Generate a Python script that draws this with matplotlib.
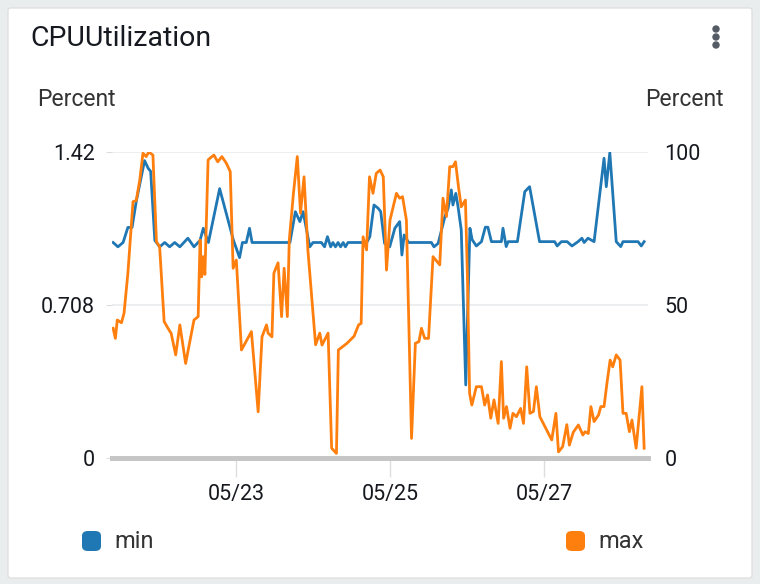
import numpy as np
import pandas as pd
import matplotlib
matplotlib.use("Agg")
import matplotlib.pyplot as plt
import matplotlib.dates as mdates
from matplotlib.patches import FancyBboxPatch, Ellipse

plt.rcParams['font.family'] = ['Roboto', 'DejaVu Sans']

# hours after 05/21 00:00 and values
start = pd.Timestamp("2024-05-21 00:00")

min_hours = [9.7, 11.2, 12.8, 14.3, 15.6, 16.9, 19.5, 20.6, 21.4, 22.7, 24.2, 25.8,
             27.3, 28.9, 30.5, 33.0, 34.9, 36.8, 37.8, 39.4, 42.9, 47.2, 49.1, 50.0,
             51.2, 52.2, 53.0, 64.8, 66.5, 67.9, 68.9, 71.0, 72.0, 74.6, 75.6, 76.5,
             77.5, 78.2, 79.0, 79.8, 80.6, 81.4, 82.1, 82.9, 87.1, 88.6, 89.7, 91.0,
             92.3, 93.1, 94.3, 95.9, 97.5, 99.0, 99.7, 100.4, 101.8, 108.9, 109.7, 111.0,
             113.1, 114.1, 115.1, 115.6, 116.5, 117.2, 118.2, 119.6, 120.9, 121.6, 122.9, 124.5,
             125.7, 126.5, 127.6, 130.7, 131.2, 132.2, 132.8, 135.7, 138.0, 139.5, 142.6, 147.3,
             148.1, 149.4, 151.2, 152.7, 154.6, 155.8, 156.5, 157.7, 159.6, 162.7, 163.4, 164.5,
             166.5, 167.9, 168.6, 173.3, 174.3, 175.2]
min_values = [1.00, 0.98, 1.00, 1.07, 1.07, 1.19, 1.38, 1.345, 1.33, 1.01, 0.98, 1.00,
              0.98, 1.00, 0.98, 1.02, 0.98, 1.01, 1.066, 1.00, 1.25, 1.01, 0.93, 1.00,
              1.00, 1.066, 1.00, 1.00, 1.143, 1.097, 1.143, 0.98, 1.00, 1.00, 0.98, 1.027,
              0.98, 1.00, 0.98, 1.00, 0.98, 1.00, 0.98, 1.00, 1.00, 0.996, 1.027, 1.174,
              1.159, 1.143, 0.996, 0.98, 1.066, 1.097, 0.942, 1.035, 1.00, 1.00, 0.98, 0.996,
              1.12, 1.159, 1.244, 1.174, 1.228, 1.166, 1.058, 0.339, 1.066, 1.013, 0.984, 1.004,
              1.071, 1.071, 1.004, 1.004, 1.066, 0.981, 1.004, 1.004, 1.236, 1.259, 1.004, 1.004,
              0.984, 1.004, 1.004, 0.984, 1.004, 1.02, 1.00, 1.02, 1.004, 1.391, 1.259, 1.417,
              1.004, 0.981, 1.004, 1.004, 0.984, 1.004]

max_hours = [9.7, 10.4, 11.0, 12.3, 13.1, 14.3, 15.9, 16.9, 18.0, 19.0, 20.0, 20.8,
             22.1, 23.2, 24.2, 25.6, 26.8, 27.8, 29.2, 30.5, 32.3, 34.9, 36.2, 36.8,
             37.3, 37.8, 38.3, 39.3, 39.8, 41.1, 42.3, 43.6, 45.0, 46.2, 47.1, 48.1,
             49.7, 52.8, 54.9, 56.1, 57.5, 58.0, 59.2, 59.8, 61.1, 62.2, 63.0, 64.0,
             64.6, 65.9, 67.1, 68.1, 69.2, 70.4, 72.8, 74.1, 74.8, 76.7, 77.8, 79.3,
             79.9, 82.6, 84.8, 86.2, 87.0, 87.6, 88.7, 89.6, 90.7, 91.7, 92.9, 93.9,
             94.9, 96.0, 98.0, 99.0, 99.9, 101.1, 102.7, 103.9, 105.0, 105.8, 106.8, 108.0,
             109.4, 111.5, 112.5, 113.6, 114.6, 115.6, 116.4, 117.4, 118.2, 119.5, 120.1, 120.8,
             121.5, 122.9, 124.5, 125.5, 126.4, 127.4, 128.4, 129.7, 130.7, 131.4, 132.3, 133.4,
             134.3, 135.4, 136.7, 137.6, 138.6, 139.6, 140.7, 141.6, 142.7, 146.4, 147.7, 148.5,
             149.8, 151.1, 151.9, 153.1, 154.7, 156.1, 156.8, 157.8, 158.6, 159.6, 161.0, 161.7,
             162.7, 163.6, 164.6, 165.4, 166.5, 167.7, 168.6, 169.6, 170.6, 171.4, 172.7, 174.5,
             175.2]
max_values = [42.4, 39.1, 45.1, 44.2, 47.3, 60.4, 83.8, 84.1, 90.8, 99.6, 98.5, 100.0,
              99.0, 70.7, 69.0, 44.6, 42.4, 40.7, 33.7, 43.5, 30.9, 45.1, 46.2, 71.2,
              59.2, 65.8, 60.0, 97.4, 97.9, 99.0, 96.8, 98.5, 96.3, 93.6, 62.0, 64.7,
              35.3, 41.3, 15.1, 39.6, 43.5, 40.8, 39.6, 60.4, 63.8, 46.2, 62.0, 46.2,
              71.2, 86.5, 98.5, 80.0, 91.9, 68.0, 37.0, 40.8, 36.9, 40.8, 3.2, 1.5,
              35.3, 37.5, 39.8, 43.5, 44.0, 72.3, 68.0, 91.9, 86.5, 93.0, 94.1, 91.9,
              61.4, 77.8, 86.5, 84.9, 85.4, 77.8, 6.4, 37.5, 38.0, 42.4, 39.1, 39.1,
              65.8, 63.1, 84.9, 78.9, 95.2, 95.2, 96.8, 88.1, 82.1, 84.3, 60.4, 21.1,
              17.3, 23.3, 23.3, 17.3, 20.6, 13.0, 19.0, 11.3, 31.5, 13.0, 16.8, 9.7,
              14.6, 13.5, 16.2, 11.3, 29.8, 14.6, 15.2, 23.3, 13.5, 5.9, 14.6, 2.0,
              3.7, 10.9, 4.2, 8.4, 10.8, 7.5, 8.6, 8.0, 16.8, 11.9, 14.1, 16.8,
              16.8, 24.4, 32.0, 29.8, 33.7, 32.0, 14.6, 14.6, 8.6, 12.4, 3.2, 23.3,
              3.2]

left_ticks = [0, 0.708, 1.42]
left_labels = ["0", "0.708", "1.42"]
right_ticks = [0, 50, 100]
date_ticks = ["2024-05-23", "2024-05-25", "2024-05-27"]

blue = "#1f77b4"
orange = "#ff7f0e"
text_col = "#16191f"

min_t = start + pd.to_timedelta(min_hours, unit="h")
max_t = start + pd.to_timedelta(max_hours, unit="h")

fig = plt.figure(figsize=(7.6, 5.84), dpi=100)
fig.patch.set_facecolor("#eaeded")

# white card
card = FancyBboxPatch((8 / 760, 6 / 584), 744 / 760, 570 / 584,
                      boxstyle="round,pad=0,rounding_size=0.004",
                      transform=fig.transFigure, facecolor="white",
                      edgecolor="#e0e0e0", linewidth=1, zorder=-5)
fig.add_artist(card)

ax = fig.add_axes([112 / 760, 126 / 584, 536 / 760, 306 / 584])
ax.set_facecolor("none")
ax2 = ax.twinx()
ax.set_zorder(2)
ax2.set_zorder(3)
ax2.patch.set_visible(False)

ax.plot(min_t, min_values, color=blue, linewidth=2, solid_joinstyle="round", zorder=3)
ax2.plot(max_t, max_values, color=orange, linewidth=2, solid_joinstyle="round", zorder=3)

ax.set_xlim(start + pd.Timedelta(hours=9.35), start + pd.Timedelta(hours=176.4))
ax.set_ylim(0, 1.42)
ax2.set_ylim(0, 100)

ax.set_yticks(left_ticks)
ax.set_yticklabels(left_labels)
ax2.set_yticks(right_ticks)
ax.set_xticks(pd.to_datetime(date_ticks))
ax.xaxis.set_major_formatter(mdates.DateFormatter("%m/%d"))

ax.grid(axis="y", color="#e9ebed", linewidth=1.2)
for a in (ax, ax2):
    for s in ("top", "left", "right"):
        a.spines[s].set_visible(False)
    a.spines["bottom"].set_color("#c6c6c6")
    a.spines["bottom"].set_linewidth(3.5)

ax.tick_params(axis="y", length=4, color="#dddddd", labelsize=15.5,
               labelcolor=text_col, pad=8.5)
ax2.tick_params(axis="y", length=0, labelsize=15.5, labelcolor=text_col, pad=12)
ax.tick_params(axis="x", length=14, width=1, color="#dddddd", labelsize=15.5,
               labelcolor=text_col, pad=5, direction="out")

# title, axis units, menu
fig.text(30 / 760, 1 - 39 / 584, "CPUUtilization", fontsize=20.5, color=text_col,
         va="center", ha="left")
fig.text(37 / 760, 1 - 99 / 584, "Percent", fontsize=16.5, color="#333333",
         va="center", ha="left")
fig.text(724 / 760, 1 - 99 / 584, "Percent", fontsize=16.5, color="#333333",
         va="center", ha="right")
for yy in (29, 37, 45):
    fig.add_artist(Ellipse((716 / 760, 1 - yy / 584), 6 / 760, 6 / 584,
                           transform=fig.transFigure, color="#545b64"))

# legend swatches
for x0, col, lab in ((82, blue, "min"), (566, orange, "max")):
    fig.add_artist(FancyBboxPatch((x0 / 760, 1 - 551 / 584), 19 / 760, 20 / 584,
                                  boxstyle="round,pad=0,rounding_size=0.008",
                                  transform=fig.transFigure, facecolor=col,
                                  edgecolor="none"))
    fig.text((x0 + 32) / 760, 1 - 541 / 584, lab, fontsize=17, color="#333333",
             va="center", ha="left")

fig.savefig("out.png", dpi=100, facecolor=fig.get_facecolor())
